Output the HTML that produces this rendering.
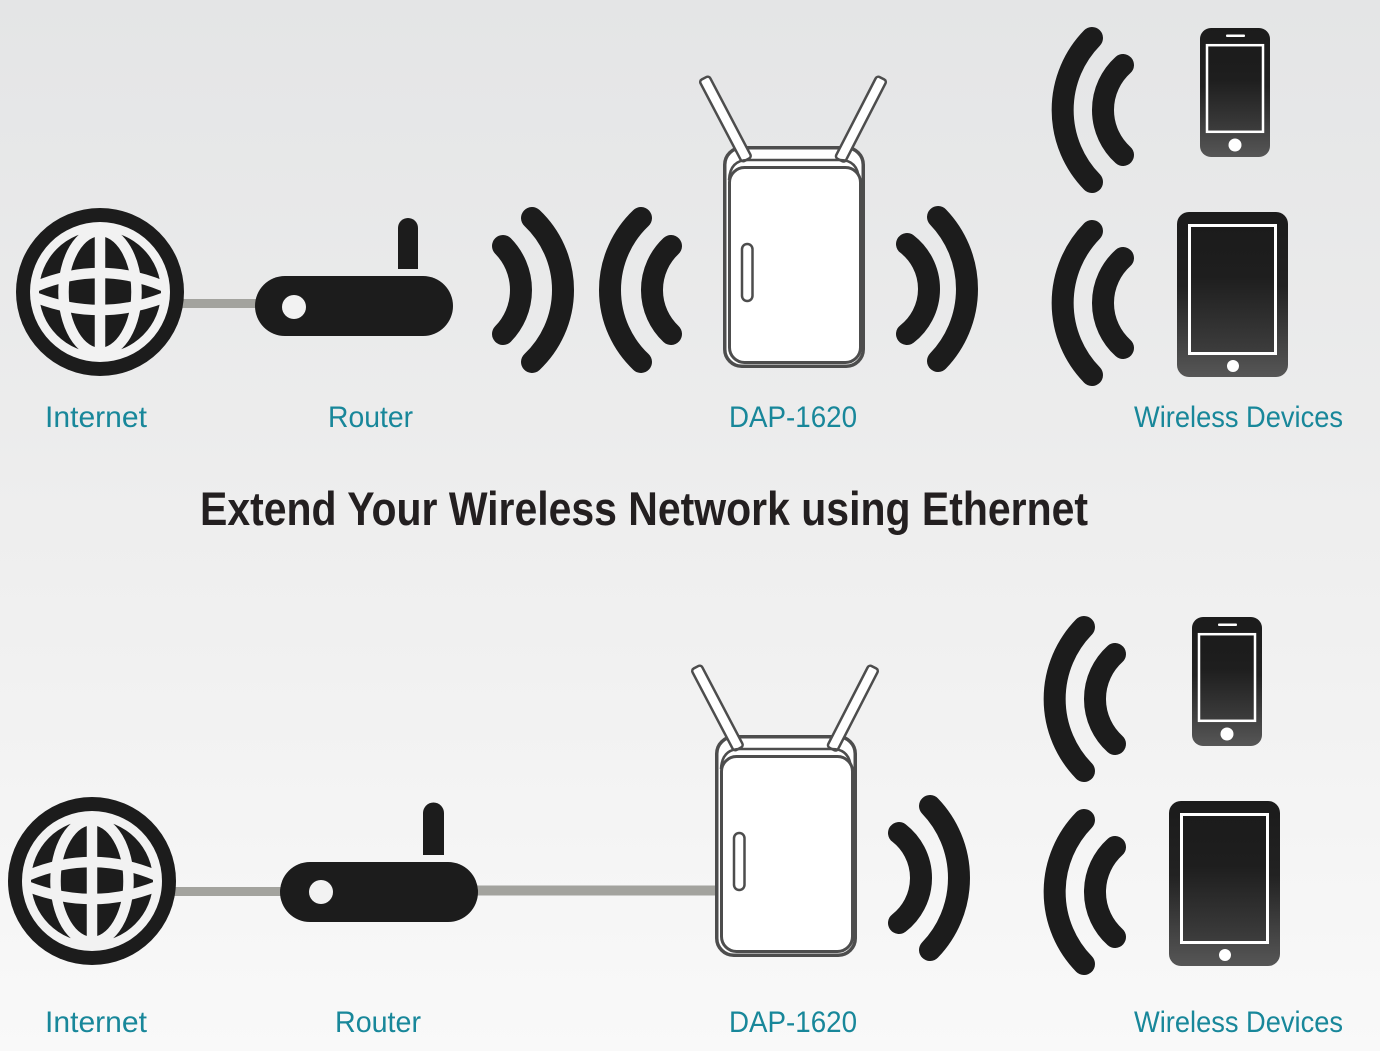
<!DOCTYPE html>
<html>
<head>
<meta charset="utf-8">
<style>
  html, body { margin:0; padding:0; }
  body { width:1380px; height:1051px; overflow:hidden; }
  svg { display:block; }
  .lbl { font-family:"Liberation Sans", sans-serif; font-size:30px; fill:#18879a; }
  .ttl { font-family:"Liberation Sans", sans-serif; font-size:47px; font-weight:bold; fill:#231f20; }
</style>
</head>
<body>
<svg width="1380" height="1051" viewBox="0 0 1380 1051" xmlns="http://www.w3.org/2000/svg">
  <defs>
    <linearGradient id="bg" x1="0" y1="0" x2="0" y2="1">
      <stop offset="0" stop-color="#e4e5e6"/>
      <stop offset="0.5" stop-color="#eeeeee"/>
      <stop offset="1" stop-color="#f9f9f9"/>
    </linearGradient>
    <linearGradient id="dev" x1="0" y1="0" x2="0" y2="1">
      <stop offset="0" stop-color="#1b1b1b"/>
      <stop offset="0.45" stop-color="#222"/>
      <stop offset="1" stop-color="#565656"/>
    </linearGradient>
    <linearGradient id="scr" x1="0" y1="0" x2="0" y2="1">
      <stop offset="0" stop-color="#1b1b1b"/>
      <stop offset="0.4" stop-color="#1e1e1e"/>
      <stop offset="1" stop-color="#3d3d3d"/>
    </linearGradient>

    <g id="globe">
      <circle r="84" fill="#1c1c1c"/>
      <circle r="70" fill="#f2f2f2"/>
      <circle r="61" fill="#1c1c1c"/>
      <g stroke="#f2f2f2" stroke-width="10.5" fill="none">
        <line x1="0" y1="-63" x2="0" y2="63"/>
        <ellipse rx="36.5" ry="61"/>
        <path d="M-63,-6 Q0,-32 63,-6"/>
        <path d="M-63,6 Q0,30 63,6"/>
      </g>
    </g>

    <g id="rightpart">
      <!-- DAP device -->
      <rect x="724.75" y="147.75" width="138.5" height="218.5" rx="17" fill="#ffffff" stroke="#4d4d4d" stroke-width="3.5"/>
      <g transform="translate(705,80) rotate(-27.7)">
        <rect x="-5.5" y="-2" width="11" height="92" rx="3" fill="#ffffff" stroke="#4d4d4d" stroke-width="2.5"/>
      </g>
      <g transform="translate(881,80) rotate(27.2)">
        <rect x="-5.5" y="-2" width="11" height="92" rx="3" fill="#ffffff" stroke="#4d4d4d" stroke-width="2.5"/>
      </g>
      <path d="M729,180 Q730,160 748,160 L840,160 Q858,160 859,180" fill="none" stroke="#4d4d4d" stroke-width="2.5"/>
      <rect x="729.5" y="167.5" width="131" height="195" rx="15" fill="#ffffff" stroke="#4d4d4d" stroke-width="3"/>
      <rect x="742" y="244" width="10.5" height="57" rx="5.2" fill="#ffffff" stroke="#4d4d4d" stroke-width="2.5"/>

      <!-- waves right of DAP -->
      <g stroke="#1c1c1c" stroke-width="22" stroke-linecap="round" fill="none">
        <path d="M907,244 A57,57 0 0 1 907,334"/>
        <path d="M938,217 A103.9,103.9 0 0 1 938,361"/>
        <!-- device waves -->
        <path d="M1092,38 A103,103 0 0 0 1092,182"/>
        <path d="M1123,65 A60.6,60.6 0 0 0 1123,155"/>
        <path d="M1092,231 A103,103 0 0 0 1092,375"/>
        <path d="M1123,258 A60.6,60.6 0 0 0 1123,348"/>
      </g>

      <!-- phone -->
      <rect x="1200" y="28" width="70" height="129" rx="11" fill="url(#dev)"/>
      <rect x="1207" y="45.2" width="56" height="86.6" fill="url(#scr)" stroke="#ffffff" stroke-width="2.5"/>
      <rect x="1226" y="34.5" width="19" height="2.5" rx="1" fill="#ffffff"/>
      <circle cx="1235" cy="145" r="6.5" fill="#ffffff"/>

      <!-- tablet -->
      <rect x="1177" y="212" width="111" height="165" rx="12" fill="url(#dev)"/>
      <rect x="1189.5" y="225.5" width="86" height="128" fill="url(#scr)" stroke="#ffffff" stroke-width="3"/>
      <circle cx="1233" cy="366" r="6" fill="#ffffff"/>
    </g>
  </defs>

  <rect x="0" y="0" width="1380" height="1051" fill="url(#bg)"/>

  <!-- ===== TOP SECTION ===== -->
  <rect x="180" y="299" width="80" height="9" fill="#a3a39e"/>
  <use href="#globe" transform="translate(100,292)"/>

  <!-- router -->
  <path d="M398,228 a10,10 0 0 1 20,0 L418,269 L398,269 Z" fill="#1c1c1c"/>
  <rect x="255" y="276" width="198" height="60" rx="30" fill="#1c1c1c"/>
  <circle cx="294" cy="307" r="12" fill="#f2f2f2"/>

  <!-- waves router -> DAP -->
  <g stroke="#1c1c1c" stroke-width="22" stroke-linecap="round" fill="none">
    <path d="M503,246 A62.8,62.8 0 0 1 503,334"/>
    <path d="M532,218 A99.1,99.1 0 0 1 532,362"/>
    <path d="M641,218 A99.1,99.1 0 0 0 641,362"/>
    <path d="M671,246 A60.4,60.4 0 0 0 671,334"/>
  </g>

  <use href="#rightpart"/>

  <text class="lbl" x="45" y="427" textLength="102" lengthAdjust="spacingAndGlyphs">Internet</text>
  <text class="lbl" x="328" y="427" textLength="85" lengthAdjust="spacingAndGlyphs">Router</text>
  <text class="lbl" x="729" y="427" textLength="128" lengthAdjust="spacingAndGlyphs">DAP-1620</text>
  <text class="lbl" x="1134" y="427" textLength="209" lengthAdjust="spacingAndGlyphs">Wireless Devices</text>

  <!-- title -->
  <text class="ttl" x="200" y="525" textLength="888" lengthAdjust="spacingAndGlyphs">Extend Your Wireless Network using Ethernet</text>

  <!-- ===== BOTTOM SECTION ===== -->
  <rect x="170" y="887" width="115" height="9" fill="#a3a39e"/>
  <rect x="470" y="885.5" width="250" height="10" fill="#a3a39e"/>
  <use href="#globe" transform="translate(92,881)"/>

  <path d="M423,813 a10.5,10.5 0 0 1 21,0 L444,855 L423,855 Z" fill="#1c1c1c"/>
  <rect x="280" y="862" width="198" height="60" rx="30" fill="#1c1c1c"/>
  <circle cx="321" cy="892" r="12" fill="#f2f2f2"/>

  <use href="#rightpart" transform="translate(-8,589)"/>

  <text class="lbl" x="45" y="1032" textLength="102" lengthAdjust="spacingAndGlyphs">Internet</text>
  <text class="lbl" x="335" y="1032" textLength="86" lengthAdjust="spacingAndGlyphs">Router</text>
  <text class="lbl" x="729" y="1032" textLength="128" lengthAdjust="spacingAndGlyphs">DAP-1620</text>
  <text class="lbl" x="1134" y="1032" textLength="209" lengthAdjust="spacingAndGlyphs">Wireless Devices</text>
</svg>
</body>
</html>
